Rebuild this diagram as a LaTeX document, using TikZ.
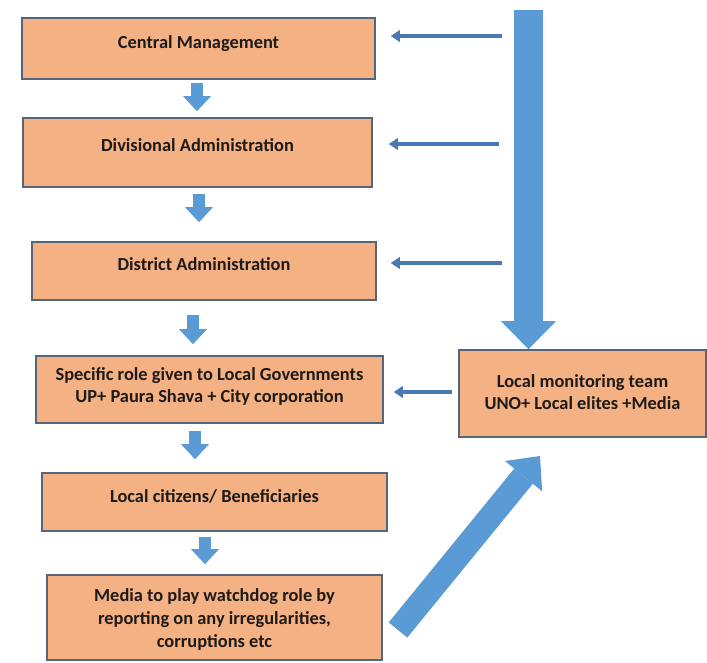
\documentclass[tikz,border=0pt]{standalone}
\usepackage{fontspec}
\setmainfont{Carlito}
\usetikzlibrary{arrows.meta}
\definecolor{boxfill}{HTML}{F4B183}
\definecolor{boxline}{HTML}{56667A}
\definecolor{arrowblue}{HTML}{5B9BD5}
\definecolor{feedblue}{HTML}{4A78B0}
\definecolor{inkdark}{HTML}{1E1A18}

\begin{document}
\begin{tikzpicture}[x=1pt, y=-1pt,
    box/.style={draw=boxline, line width=1.6pt, fill=boxfill, inner sep=0pt},
    boxtext/.style={font=\fontsize{18.4}{22}\selectfont\bfseries, text=inkdark, align=center, inner sep=0pt},
    smalldown/.style={draw=arrowblue, line width=12pt, -{Triangle[length=15pt, width=28pt, line width=0pt]}},
    bigdown/.style={draw=arrowblue, line width=29pt, -{Triangle[length=28pt, width=55pt, line width=0pt]}},
    diagup/.style={draw=arrowblue, line width=24pt, -{Triangle[length=26pt, width=48pt, line width=0pt]}},
    feed/.style={draw=feedblue, line width=3.8pt, -{Triangle[length=9pt, width=12pt, line width=0pt]}}]
    \useasboundingbox (0,0) rectangle (707,662);

    % Hierarchy boxes
    \node[box, minimum width=353pt, minimum height=61pt] (cm) at (198.5,48.5) {};
    \node[box, minimum width=349pt, minimum height=69pt] (da) at (197.5,152.5) {};
    \node[box, minimum width=344pt, minimum height=58pt] (dt) at (204,271) {};
    \node[box, minimum width=347pt, minimum height=67pt] (lg) at (209.5,389.5) {};
    \node[box, minimum width=345pt, minimum height=58pt] (lc) at (214.5,502) {};
    \node[box, minimum width=335pt, minimum height=85pt] (md) at (214.5,617.5) {};
    \node[boxtext] (cm-t) at ([yshift=5pt]cm.center) {Central Management};
    \node[boxtext] (da-t) at ([yshift=7pt]da.center) {Divisional Administration};
    \node[boxtext] (dt-t) at ([yshift=6.5pt]dt.center) {District Administration};
    \node[boxtext] (lg-t) at ([yshift=3pt]lg.center) {Specific role given to Local Governments\\UP+ Paura Shava + City corporation};
    \node[boxtext] (lc-t) at ([yshift=6pt]lc.center) {Local citizens/ Beneficiaries};
    \node[boxtext, font=\fontsize{18.4}{23}\selectfont\bfseries] (md-t) at ([yshift=-2pt]md.center) {Media to play watchdog role by\\reporting on any irregularities,\\corruptions etc};

    % Monitoring team
    \node[box, minimum width=247pt, minimum height=87pt] (mt) at (582.5,393.5) {};
    \node[boxtext] (mt-t) at ([yshift=1.5pt]mt.center) {Local monitoring team\\UNO+ Local elites +Media};

    % Downward flow
    \draw[smalldown, shorten <=3pt, shorten >=6pt] (cm.south -| 197,0) -- (da.north -| 197,0);
    \draw[smalldown, shorten <=6pt, shorten >=19pt] (da.south -| 199,0) -- (dt.north -| 199,0);
    \draw[smalldown, shorten <=14pt, shorten >=11pt] (dt.south -| 193,0) -- (lg.north -| 193,0);
    \draw[smalldown, shorten <=7pt, shorten >=13pt] (lg.south -| 195,0) -- (lc.north -| 195,0);
    \draw[smalldown, shorten <=5pt, shorten >=10pt] (lc.south -| 205,0) -- (md.north -| 205,0);

    % Monitoring feedback
    \coordinate (top) at (528.5,10);
    \draw[bigdown] (top) -- (top |- mt.north);
    \coordinate (f1) at (502,36);
    \coordinate (f2) at (499,144);
    \coordinate (f3) at (502,263);
    \draw[feed, shorten >=15pt] (f1) -- (f1 -| cm.east);
    \draw[feed, shorten >=16pt] (f2) -- (f2 -| da.east);
    \draw[feed, shorten >=14pt] (f3) -- (f3 -| dt.east);
    \draw[feed, shorten <=6pt, shorten >=10pt] (mt.west |- 0,392) -- (lg.east |- 0,392);

    % Media back to monitoring
    \coordinate (tail) at (398,630);
    \coordinate (tip) at (540,456);
    \draw[diagup] (tail) -- (tip);
\end{tikzpicture}
\end{document}
